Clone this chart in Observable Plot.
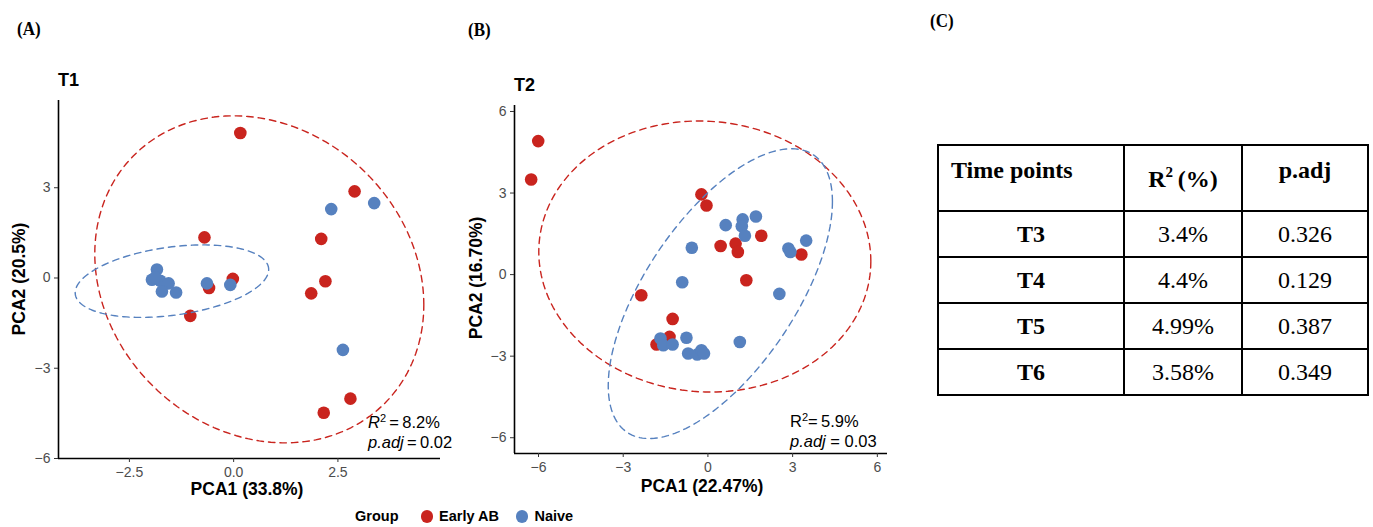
<!DOCTYPE html>
<html><head><meta charset="utf-8">
<script src="https://cdn.jsdelivr.net/npm/d3@7"></script>
<script src="https://cdn.jsdelivr.net/npm/@observablehq/plot@0.6"></script>
<style>
body{margin:0;background:#fff;width:1373px;height:527px;position:relative;overflow:hidden;font-family:"Liberation Sans",Arial,Helvetica,sans-serif;}
.abs{position:absolute;white-space:nowrap;line-height:1;}
.letter{font-family:"Liberation Serif","Times New Roman",serif;font-weight:bold;font-size:17px;transform:scaleY(1.15);transform-origin:left bottom;}
.title{font-weight:bold;font-size:18px;color:#000;}
.axlab{font-weight:bold;font-size:17.5px;color:#000;}
.ann{font-size:16.5px;color:#000;}
.legend{font-weight:bold;font-size:14.5px;color:#000;display:flex;align-items:center;}
.sw{display:inline-block;width:12.5px;height:12.5px;border-radius:50%;}
table.tc{position:absolute;left:937px;top:144px;border-collapse:collapse;font-family:"Liberation Serif","Times New Roman",serif;font-size:24px;color:#000;}
table.tc td{border:2.5px solid #000;text-align:center;padding:0;}
table.tc tr.h td{font-weight:bold;height:66px;vertical-align:top;padding-top:11px;box-sizing:border-box;}
table.tc tr.b td{height:44px;}
table.tc tr.b td:first-child{font-weight:bold;}
</style></head><body>
<script>
// ---- shared ----
const groups = ["Early AB", "Naive"];
const groupColors = ["#C9241E", "#5681BF"];

// ---- Panel A (T1) ----
const t1RedX  = [0.16, 2.90, 2.10, 2.20, 1.86, -0.70, -0.02, -0.59, -1.04, 2.80, 2.16];
const t1RedY  = [4.82, 2.88, 1.30, -0.11, -0.51, 1.35, -0.03, -0.33, -1.26, -4.01, -4.48];
const t1BlueX = [3.37, 2.34, 2.62, -0.64, -0.08, -1.84, -1.96, -1.76, -1.56, -1.72, -1.38, -1.88];
const t1BlueY = [2.49, 2.29, -2.39, -0.18, -0.23, 0.28, -0.06, -0.09, -0.18, -0.45, -0.48, 0.02];
// ellipse: centre, x half-width, y half-height, x-offset of top point (as fraction of half-width)
const t1EllCx = [0.615, -1.48];
const t1EllCy = [-0.045, -0.105];
const t1EllA  = [3.945, 2.32];
const t1EllB  = [5.435, 1.205];
const t1EllD  = [-0.156, 0.32];
const t1XTicks = [-2.5, 0, 2.5];
const t1YTicks = [-6, -3, 0, 3];

// ---- Panel B (T2) ----
const t2RedX  = [-6.01, -6.26, -0.23, -0.05, 0.45, 0.98, 1.06, 1.89, 3.31, 1.36, -2.36, -1.25, -1.36, -1.82];
const t2RedY  = [4.91, 3.50, 2.95, 2.54, 1.05, 1.14, 0.83, 1.43, 0.74, -0.21, -0.76, -1.63, -2.29, -2.57];
const t2BlueX = [1.70, 1.23, 1.20, 0.63, 1.31, -0.57, 2.85, 2.92, 3.48, -0.91, 2.53, 1.13, -0.76, -1.68, -1.58, -1.25, -0.70, -0.38, -0.23, -0.14];
const t2BlueY = [2.14, 2.03, 1.78, 1.82, 1.43, 0.99, 0.96, 0.83, 1.25, -0.28, -0.71, -2.48, -2.32, -2.35, -2.60, -2.57, -2.90, -2.94, -2.78, -2.90];
const t2EllCx = [-0.11, 0.44];
const t2EllCy = [0.665, -0.70];
const t2EllA  = [5.88, 3.97];
const t2EllB  = [4.985, 5.33];
const t2EllD  = [-0.035, 0.635];
const t2XTicks = [-6, -3, 0, 3, 6];
const t2YTicks = [-6, -3, 0, 3, 6];

// ---- Table C ----
const tableHeader = ["Time points", "R2", "p.adj"];
const tablePoints = ["T3", "T4", "T5", "T6"];
const tableR2     = ["3.4%", "4.4%", "4.99%", "3.58%"];
const tablePadj   = ["0.326", "0.129", "0.387", "0.349"];

function pts(rx, ry, bx, by) {
  return [
    ...rx.map((x, i) => ({group: groups[0], x, y: ry[i]})),
    ...bx.map((x, i) => ({group: groups[1], x, y: by[i]}))
  ];
}
function ells(cx, cy, A, B, D) {
  const rows = [];
  groups.forEach((g, k) => {
    const delta = Math.acos(D[k]);
    for (let i = 0; i <= 180; i++) {
      const t = (i / 180) * 2 * Math.PI;
      rows.push({group: g, x: cx[k] + A[k] * Math.cos(t), y: cy[k] + B[k] * Math.cos(t - delta)});
    }
  });
  return rows;
}

function panel(o) {
  const svg = Plot.plot({
    width: o.width, height: o.height,
    marginLeft: o.ml, marginTop: o.mt, marginBottom: o.mb, marginRight: o.mr,
    style: {fontFamily: '"Liberation Sans", Arial, sans-serif', fontSize: "14px", background: "transparent", overflow: "visible"},
    x: {domain: o.xDomain},
    y: {domain: o.yDomain},
    color: {domain: groups, range: groupColors},
    marks: [
      Plot.dot(o.points, {x: "x", y: "y", fill: "group", r: 6.3, stroke: "none"}),
      Plot.line(o.ellipses, {x: "x", y: "y", z: "group", stroke: "group", strokeWidth: 1.4, strokeDasharray: "6.5,5"}),
      Plot.ruleX([o.xDomain[0]], {stroke: "#000", strokeWidth: 1.6}),
      Plot.ruleY([o.yDomain[0]], {stroke: "#000", strokeWidth: 1.6}),
      Plot.axisX({ticks: o.xTicks, tickFormat: o.xFmt, tickSize: 4, tickPadding: 5, stroke: "#333", fill: "#4d4d4d", label: null}),
      Plot.axisY({ticks: o.yTicks, tickFormat: d3.format("d"), tickSize: 4, tickPadding: 4, stroke: "#333", fill: "#4d4d4d", label: null})
    ]
  });
  svg.style.position = "absolute";
  svg.style.left = o.left + "px";
  svg.style.top = o.top + "px";
  document.body.appendChild(svg);
}

panel({left: 0, top: 60, width: 470, height: 440, ml: 58, mt: 40, mb: 42, mr: 30,
  xDomain: [-4.2, 4.96], yDomain: [-6.0, 5.9], xTicks: t1XTicks, yTicks: t1YTicks, xFmt: d3.format(".1f"),
  points: pts(t1RedX, t1RedY, t1BlueX, t1BlueY), ellipses: ells(t1EllCx, t1EllCy, t1EllA, t1EllB, t1EllD)});

panel({left: 460, top: 70, width: 440, height: 430, ml: 54, mt: 35, mb: 47, mr: 13,
  xDomain: [-6.85, 6.36], yDomain: [-6.58, 6.22], xTicks: t2XTicks, yTicks: t2YTicks, xFmt: d3.format("d"),
  points: pts(t2RedX, t2RedY, t2BlueX, t2BlueY), ellipses: ells(t2EllCx, t2EllCy, t2EllA, t2EllB, t2EllD)});

function addText(html, cls, css) {
  const d = document.createElement("div");
  d.className = "abs " + cls;
  d.innerHTML = html;
  Object.assign(d.style, css);
  document.body.appendChild(d);
  return d;
}
// panel letters
addText("(A)", "letter", {left: "17px", top: "21px"});
addText("(B)", "letter", {left: "468px", top: "22px"});
addText("(C)", "letter", {left: "930px", top: "13px"});
// titles
addText("T1", "title", {left: "58px", top: "71px"});
addText("T2", "title", {left: "514px", top: "76px"});
// axis labels
addText("PCA1 (33.8%)", "axlab", {left: "247px", top: "481px", transform: "translateX(-50%)"});
addText("PCA1 (22.47%)", "axlab", {left: "702px", top: "478px", transform: "translateX(-50%)"});
addText("PCA2 (20.5%)", "axlab", {left: "20px", top: "279px", transform: "translate(-50%,-50%) rotate(-90deg)"});
addText("PCA2 (16.70%)", "axlab", {left: "477px", top: "278px", transform: "translate(-50%,-50%) rotate(-90deg)"});
// annotations
addText('<i>R</i><sup style="font-size:11px;vertical-align:6px">2</sup>&thinsp;=&thinsp;8.2%<br><span style="display:inline-block;margin-top:3px"><i>p.adj</i>&thinsp;=&thinsp;0.02</span>', "ann", {left: "368px", top: "413px"});
addText('R<sup style="font-size:11px;vertical-align:6px">2</sup>=&thinsp;5.9%<br><span style="display:inline-block;margin-top:3px"><i>p.adj</i> = 0.03</span>', "ann", {left: "790px", top: "412px"});
// legend
const lg = addText("", "legend", {left: "355px", top: "509px"});
lg.innerHTML = '<span style="margin-right:22px">Group</span>' +
  groups.map((g, i) => `<span class="sw" style="background:${groupColors[i]};margin-right:6px"></span><span style="margin-right:17px">${g}</span>`).join("");

// table
const tbl = document.createElement("table");
tbl.className = "tc";
let h = '<tr class="h"><td style="width:186px;text-align:left;padding-left:12px">' + tableHeader[0] + '</td>' +
  '<td style="width:118px;padding-top:18px">R<sup style="font-size:15px;vertical-align:10px">2</sup>&thinsp;(%)</td>' +
  '<td style="width:126px">' + tableHeader[2] + '</td></tr>';
tablePoints.forEach((p, i) => { h += `<tr class="b"><td>${p}</td><td>${tableR2[i]}</td><td>${tablePadj[i]}</td></tr>`; });
tbl.innerHTML = h;
document.body.appendChild(tbl);
</script>
</body></html>
